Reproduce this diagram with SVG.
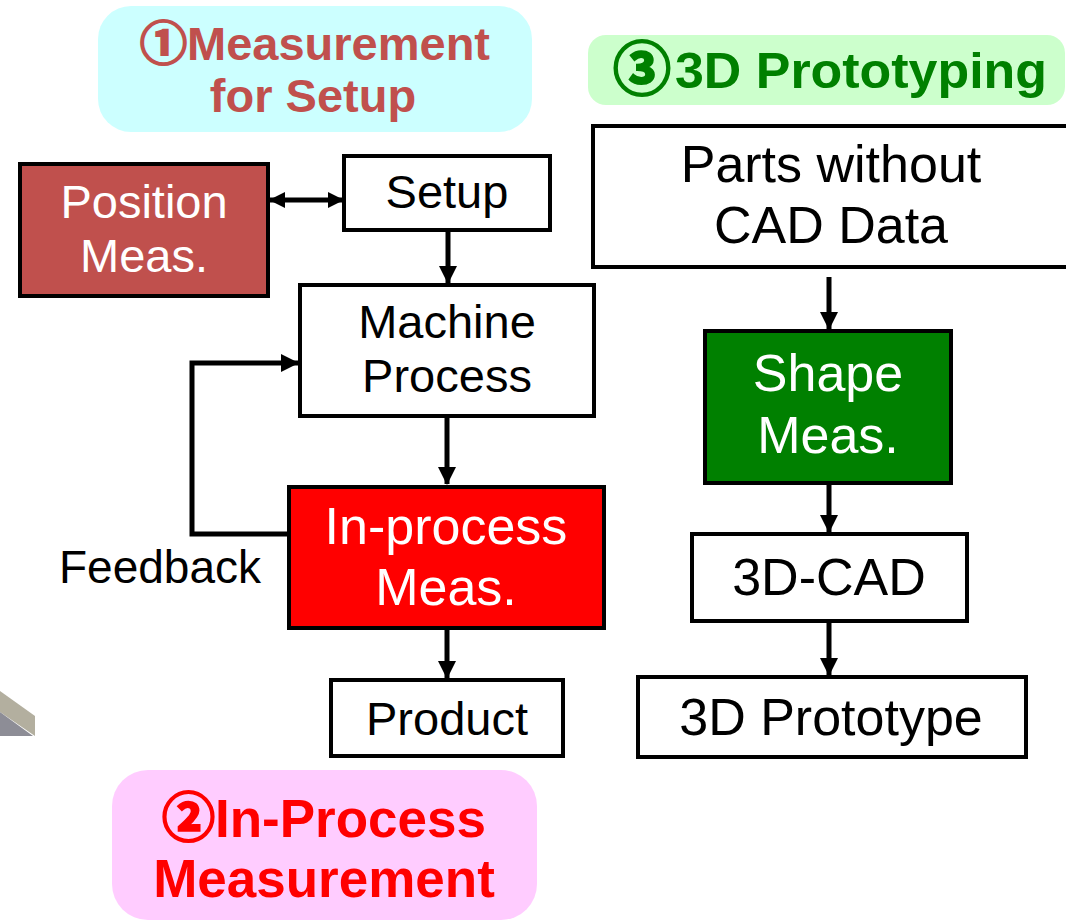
<svg xmlns="http://www.w3.org/2000/svg" width="1066" height="923" viewBox="0 0 1066 923">
  <defs>
    <style>
      .box { stroke: #000; stroke-width: 4; }
      .plain { fill: #fff; }
      .t { font-family: "Liberation Sans", Arial, sans-serif; text-anchor: middle; }
      .tb { font-family: "Liberation Sans", Arial, "Noto Sans CJK JP", sans-serif; font-weight: bold; text-anchor: middle; }
      .start { text-anchor: start; }
      .circ { font-family: "Noto Sans CJK JP", sans-serif; font-weight: bold; stroke-width: 2.2; }
      .k { fill: #000; }
      .w { fill: #fff; }
      .conn { fill: none; stroke: #000; stroke-width: 5; }
    </style>
    <marker id="head" markerUnits="userSpaceOnUse" markerWidth="18" markerHeight="18" refX="17" refY="9" orient="auto">
      <path d="M0,0 L18,9 L0,18 z" fill="#000"/>
    </marker>
    <marker id="headSmall" markerUnits="userSpaceOnUse" markerWidth="16" markerHeight="16" refX="15" refY="8" orient="auto-start-reverse">
      <path d="M0,0 L16,8 L0,16 z" fill="#000"/>
    </marker>
  </defs>

  <rect width="1066" height="923" fill="#fff"/>

  <!-- partial machine part at the left edge -->
  <g id="machine-part">
    <polygon points="0,691 35,716 35,736 0,712" fill="#b3af9f"/>
    <polygon points="0,712 33,736 0,736" fill="#8d8d96"/>
  </g>

  <!-- section labels -->
  <g id="label-setup">
    <rect x="98" y="6" width="434" height="126" rx="33" fill="#ccffff"/>
    <text class="tb" x="315" y="60" font-size="47" fill="#c0504d"><tspan class="circ" stroke="#c0504d">①</tspan>Measurement</text>
    <text class="tb" x="313" y="112" font-size="47" fill="#c0504d">for Setup</text>
  </g>
  <g id="label-inprocess">
    <rect x="112" y="770" width="425" height="150" rx="36" fill="#ffccff"/>
    <text class="tb" x="324" y="837" font-size="53" fill="#ff0000"><tspan class="circ" stroke="#ff0000">②</tspan>In-Process</text>
    <text class="tb" x="324" y="897" font-size="53" fill="#ff0000">Measurement</text>
  </g>
  <g id="label-proto">
    <rect x="588" y="35" width="477" height="70" rx="18" fill="#ccffcc"/>
    <text class="tb start" x="613" y="90" font-size="58" fill="#008000"><tspan class="circ" stroke="#008000">③</tspan></text>
    <text class="tb start" x="675" y="88" font-size="50" fill="#008000" textLength="372" lengthAdjust="spacingAndGlyphs">3D Prototyping</text>
  </g>

  <!-- connectors -->
  <g id="connectors">
    <line class="conn" x1="270" y1="200" x2="343" y2="200" marker-start="url(#headSmall)" marker-end="url(#headSmall)"/>
    <line class="conn" x1="448" y1="232" x2="448" y2="283" marker-end="url(#head)"/>
    <line class="conn" x1="447" y1="417" x2="447" y2="484" marker-end="url(#head)"/>
    <path class="conn" d="M288,534 H192 V363 H298" marker-end="url(#head)"/>
    <line class="conn" x1="447" y1="630" x2="447" y2="678" marker-end="url(#head)"/>
    <line class="conn" x1="829" y1="277" x2="829" y2="329" marker-end="url(#head)"/>
    <line class="conn" x1="829" y1="485" x2="829" y2="532" marker-end="url(#head)"/>
    <line class="conn" x1="829" y1="623" x2="829" y2="675" marker-end="url(#head)"/>
  </g>

  <!-- left flow -->
  <g id="position-meas">
    <rect class="box" x="20" y="164" width="248" height="132" fill="#c0504d"/>
    <text class="t w" x="144" y="218" font-size="47">Position</text>
    <text class="t w" x="144" y="272" font-size="47">Meas.</text>
  </g>
  <g id="setup">
    <rect class="box plain" x="344" y="156" width="206" height="74"/>
    <text class="t k" x="447" y="208" font-size="47">Setup</text>
  </g>
  <g id="machine-process">
    <rect class="box plain" x="300" y="285" width="294" height="131"/>
    <text class="t k" x="447" y="338" font-size="47">Machine</text>
    <text class="t k" x="447" y="392" font-size="47">Process</text>
  </g>
  <g id="inprocess-meas">
    <rect class="box" x="289" y="487" width="315" height="141" fill="#ff0000"/>
    <text class="t w" x="446" y="544" font-size="52">In-process</text>
    <text class="t w" x="446" y="605" font-size="52">Meas.</text>
  </g>
  <g id="feedback-label">
    <text class="t k" x="160" y="583" font-size="46">Feedback</text>
  </g>
  <g id="product">
    <rect class="box plain" x="331" y="680" width="232" height="76"/>
    <text class="t k" x="447" y="735" font-size="47">Product</text>
  </g>

  <!-- right flow -->
  <g id="parts">
    <rect class="box plain" x="593" y="126" width="480" height="141"/>
    <text class="t k" x="831" y="182" font-size="52">Parts without</text>
    <text class="t k" x="831" y="243" font-size="52">CAD Data</text>
  </g>
  <g id="shape-meas">
    <rect class="box" x="705" y="331" width="246" height="152" fill="#008000"/>
    <text class="t w" x="828" y="391" font-size="52">Shape</text>
    <text class="t w" x="828" y="453" font-size="52">Meas.</text>
  </g>
  <g id="cad">
    <rect class="box plain" x="692" y="534" width="275" height="87"/>
    <text class="t k" x="829" y="595" font-size="52">3D-CAD</text>
  </g>
  <g id="prototype">
    <rect class="box plain" x="638" y="677" width="388" height="80"/>
    <text class="t k" x="831" y="735" font-size="52">3D Prototype</text>
  </g>
</svg>
